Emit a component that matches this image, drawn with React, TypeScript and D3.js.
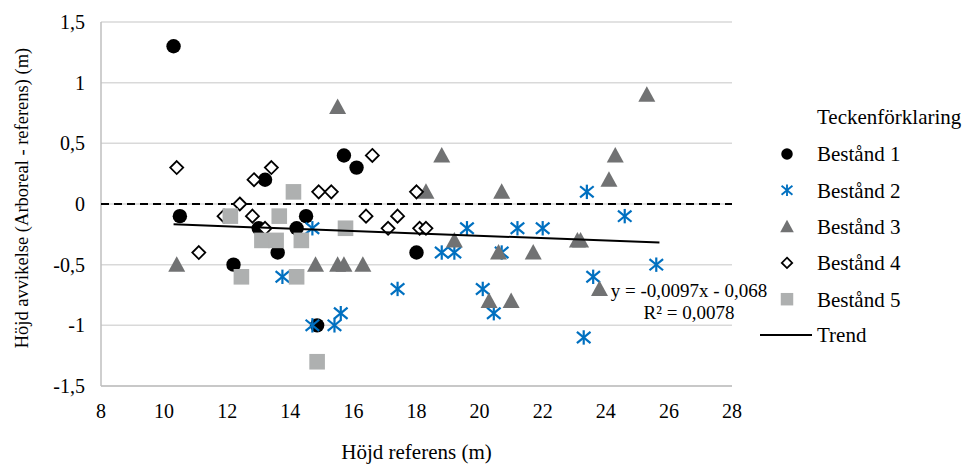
import React from 'react';
import * as d3 from 'd3';

// Axis ticks
const xTicks = [8, 10, 12, 14, 16, 18, 20, 22, 24, 26, 28];
const yTicks = [-1.5, -1, -0.5, 0, 0.5, 1, 1.5];

// Bestånd 1
const b1X = [10.3, 10.5, 12.2, 13.0, 13.2, 13.6, 14.2, 14.5, 14.85, 15.7, 16.1, 18.0];
const b1Y = [1.3, -0.1, -0.5, -0.2, 0.2, -0.4, -0.2, -0.1, -1.0, 0.4, 0.3, -0.4];

// Bestånd 2
const b2X = [14.7, 13.75, 17.4, 15.6, 14.7, 15.4, 19.6, 18.8, 19.2, 21.2, 22.0, 20.7, 20.1, 20.45, 23.4, 24.6, 25.6, 23.6, 23.3];
const b2Y = [-0.2, -0.6, -0.7, -0.9, -1.0, -1.0, -0.2, -0.4, -0.4, -0.2, -0.2, -0.4, -0.7, -0.9, 0.1, -0.1, -0.5, -0.6, -1.1];

// Bestånd 3
const b3X = [10.4, 15.5, 14.8, 15.5, 15.7, 16.3, 18.8, 18.3, 20.7, 19.2, 20.6, 21.7, 20.3, 21.0, 25.3, 24.3, 24.1, 23.1, 23.2, 23.8];
const b3Y = [-0.5, 0.8, -0.5, -0.5, -0.5, -0.5, 0.4, 0.1, 0.1, -0.3, -0.4, -0.4, -0.8, -0.8, 0.9, 0.4, 0.2, -0.3, -0.3, -0.7];

// Bestånd 4
const b4X = [10.4, 11.1, 11.9, 12.4, 12.8, 12.85, 13.2, 13.4, 14.9, 15.3, 16.4, 16.6, 17.1, 17.4, 18.0, 18.1, 18.3];
const b4Y = [0.3, -0.4, -0.1, 0.0, -0.1, 0.2, -0.2, 0.3, 0.1, 0.1, -0.1, 0.4, -0.2, -0.1, 0.1, -0.2, -0.2];

// Bestånd 5
const b5X = [12.1, 12.45, 14.1, 13.65, 13.1, 13.55, 14.35, 15.75, 14.2, 14.85];
const b5Y = [-0.1, -0.6, 0.1, -0.1, -0.3, -0.3, -0.3, -0.2, -0.6, -1.3];

// Linear trend over all stands
const trendSlope = -0.0097;
const trendIntercept = -0.068;
const trendR2 = 0.0078;
const trendXMin = 10.3;
const trendXMax = 25.7;

const seriesNames = ['Bestånd 1', 'Bestånd 2', 'Bestånd 3', 'Bestånd 4', 'Bestånd 5'];

const FONT = '"Liberation Serif", "Times New Roman", serif';
const BLUE = '#0070C0';
const DARK_GRAY = '#717273';
const LIGHT_GRAY = '#AEB0B0';

const x = d3.scaleLinear().domain([8, 28]).range([101, 732]);
const y = d3.scaleLinear().domain([-1.5, 1.5]).range([386, 22]);

const comma = (v: number) => String(v).replace('.', ',');

type MarkerKind = 'circle' | 'star' | 'triangle' | 'diamond' | 'square';

function Marker({ kind, cx, cy, s = 1 }: { kind: MarkerKind; cx: number; cy: number; s?: number }) {
  if (kind === 'circle') return <circle cx={cx} cy={cy} r={7.2 * s} fill="#000" />;
  if (kind === 'star') {
    const r = 7.2 * s;
    const dx = 6.8 * s;
    const dy = 5.6 * s;
    return (
      <g stroke={BLUE} strokeWidth={2.2 * Math.max(s, 0.85)} strokeLinecap="butt">
        <line x1={cx} y1={cy - r} x2={cx} y2={cy + r} />
        <line x1={cx - dx} y1={cy - dy} x2={cx + dx} y2={cy + dy} />
        <line x1={cx - dx} y1={cy + dy} x2={cx + dx} y2={cy - dy} />
      </g>
    );
  }
  if (kind === 'triangle') {
    const w = 8.5 * s;
    const h = 15.5 * s;
    return (
      <path
        d={`M${cx},${cy - h * 0.55} L${cx + w},${cy + h * 0.45} L${cx - w},${cy + h * 0.45} Z`}
        fill={DARK_GRAY}
      />
    );
  }
  if (kind === 'diamond') {
    const r = 6.5 * s;
    return (
      <path
        d={`M${cx},${cy - r} L${cx + r},${cy} L${cx},${cy + r} L${cx - r},${cy} Z`}
        fill="#fff"
        stroke="#000"
        strokeWidth={1.8}
      />
    );
  }
  const h = 7.8 * s;
  return <rect x={cx - h} y={cy - h} width={2 * h} height={2 * h} fill={LIGHT_GRAY} />;
}

const series: { xs: number[]; ys: number[]; kind: MarkerKind }[] = [
  { xs: b1X, ys: b1Y, kind: 'circle' },
  { xs: b2X, ys: b2Y, kind: 'star' },
  { xs: b3X, ys: b3Y, kind: 'triangle' },
  { xs: b4X, ys: b4Y, kind: 'diamond' },
  { xs: b5X, ys: b5Y, kind: 'square' },
];

export default function App() {
  const [x0, x1] = x.range();
  const trendLine = d3
    .line<number>()
    .x((d) => x(d))
    .y((d) => y(trendSlope * d + trendIntercept))([trendXMin, trendXMax]);

  const eq = `y = ${comma(trendSlope)}x - ${comma(Math.abs(trendIntercept))}`;
  const r2 = `R² = ${comma(trendR2)}`;

  return (
    <svg
      width={968}
      height={466}
      style={{ position: 'absolute', left: 0, top: 0, background: '#fff' }}
      fontFamily={FONT}
      fontSize={20}
    >
      {/* gridlines */}
      {yTicks.map((t) => (
        <line key={t} x1={x0} x2={x1} y1={y(t)} y2={y(t)} stroke="#d9d9d9" strokeWidth={1.5} />
      ))}
      <line x1={x0} x2={x0} y1={y(1.5)} y2={y(-1.5)} stroke="#bfbfbf" strokeWidth={1.5} />
      <line x1={x0} x2={x1} y1={y(-1.5)} y2={y(-1.5)} stroke="#bfbfbf" strokeWidth={1.5} />

      {/* zero reference */}
      <line x1={x0} x2={x1} y1={y(0)} y2={y(0)} stroke="#000" strokeWidth={2} strokeDasharray="8 5" />

      {/* tick labels */}
      {yTicks.map((t) => (
        <text key={t} x={85} y={y(t)} dy="0.35em" textAnchor="end">
          {comma(t)}
        </text>
      ))}
      {xTicks.map((t) => (
        <text key={t} x={x(t)} y={411} dy="0.35em" textAnchor="middle">
          {t}
        </text>
      ))}

      {/* axis titles */}
      <text x={x((8 + 28) / 2)} y={452} dy="0.35em" textAnchor="middle" fontSize={21}>
        Höjd referens (m)
      </text>
      <text
        transform={`translate(22,${y(0) - 6}) rotate(-90)`}
        dy="0.35em"
        textAnchor="middle"
        fontSize={18.5}
      >
        Höjd avvikelse (Arboreal - referens) (m)
      </text>

      {/* points */}
      {series.map((s, si) => (
        <g key={si}>
          {s.xs.map((xv, i) => (
            <Marker key={i} kind={s.kind} cx={x(xv)} cy={y(s.ys[i])} />
          ))}
        </g>
      ))}

      {/* trend */}
      <path d={trendLine ?? ''} stroke="#000" strokeWidth={2} fill="none" />
      <g fontSize={19} textAnchor="middle">
        <text x={689} y={290} dy="0.35em">
          {eq}
        </text>
        <text x={689} y={312} dy="0.35em">
          {r2}
        </text>
      </g>

      {/* legend */}
      <g fontSize={21}>
        <text x={817} y={117} dy="0.35em">
          Teckenförklaring
        </text>
        {seriesNames.map((name, i) => {
          const ly = 154 + i * 36.3;
          return (
            <g key={name}>
              <Marker kind={series[i].kind} cx={787} cy={ly} s={0.8} />
              <text x={817} y={ly} dy="0.35em">
                {name}
              </text>
            </g>
          );
        })}
        <line x1={760} x2={812} y1={335} y2={335} stroke="#000" strokeWidth={2} />
        <text x={817} y={335} dy="0.35em">
          Trend
        </text>
      </g>
    </svg>
  );
}
